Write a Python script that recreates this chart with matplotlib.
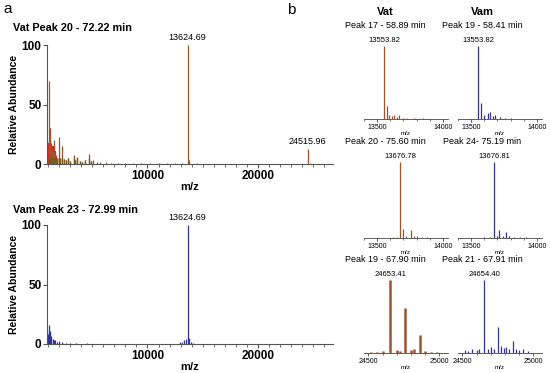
import numpy as np
import matplotlib.pyplot as plt
from matplotlib.ticker import MultipleLocator

plt.rcParams['font.family'] = ['Liberation Sans', 'DejaVu Sans']

VAT = '#a0522d'
VAT_LOW = '#7b5a1e'
VAM = '#33339a'

# panel a, Vat peak 20 (m/z, relative abundance)
a_vat_mz = [1050, 1100, 1150, 1200, 1280, 1350, 1450, 1550, 1650, 1750, 1850, 1950,
            2050, 2220, 2400, 2600, 2800, 3000, 3300, 3450, 3660, 3850, 4050, 4300,
            4660, 4900, 5100, 5400, 5700, 6200, 6700, 7300, 8000, 8700, 9400, 10200,
            11000, 11800, 12500, 13100, 13624.69, 13800, 14500, 16000, 18000, 20000,
            22000, 24515.96, 24700]
a_vat_int = [20, 70, 30, 30, 18, 12, 10, 20, 8, 6, 5, 23,
             5, 15, 4, 3, 5, 2.5, 7.5, 3, 6, 2.5, 2, 3,
             8.5, 2.5, 3, 2, 2, 1.5, 1.2, 1, 1, 0.8, 0.8, 0.7,
             0.6, 0.8, 0.8, 1, 100, 3, 0.5, 0.4, 0.4, 0.3,
             0.3, 13, 1]
a_vat_red_mz = [980, 1020, 1060, 1100, 1140, 1180, 1220, 1260, 1300, 1350, 1400, 1450,
                1500, 1550, 1600, 1650, 1700, 1750, 1800]
a_vat_red_int = [10, 16, 17, 18, 16, 17, 15, 17, 16, 14, 15, 13, 14, 12, 11, 9, 7, 5, 3]

# panel a, Vam peak 23
a_vam_mz = [1000, 1050, 1100, 1150, 1200, 1250, 1300, 1400, 1500, 1650, 1800, 2000,
            2300, 2600, 3000, 3500, 4500, 6000, 12900, 13100, 13300, 13450, 13624.69,
            13750, 13900, 14100]
a_vam_int = [8, 12, 16, 11, 10, 7, 5, 4, 3, 3, 2, 2.5,
             1.5, 1, 0.8, 0.6, 0.5, 0.4, 1.5, 2, 3, 4.5, 100,
             5, 2, 1]

# panel b
b1_vat_mz = [13553.82, 13576, 13592, 13615, 13630, 13652, 13670, 13700, 13730, 13780, 13850]
b1_vat_int = [100, 18, 6, 4, 6, 3, 5, 2, 1.5, 1, 0.8]
b1_vam_mz = [13553.82, 13578, 13600, 13625, 13645, 13670, 13685, 13720, 13760, 13800]
b1_vam_int = [100, 22, 5, 8, 9, 4, 6, 3, 1.5, 1]

b2_vat_mz = [13620, 13650, 13676.78, 13700, 13720, 13760, 13780, 13800, 13840, 13880]
b2_vat_int = [1, 1.5, 100, 12, 3, 11, 3, 2, 1.5, 1]
b2_vam_mz = [13600, 13640, 13676.81, 13700, 13712, 13740, 13766, 13790, 13830, 13870, 13920]
b2_vam_int = [1, 1.5, 100, 3, 11, 3, 8, 2, 1.5, 1, 0.8]

b3_vat_mz = [24520, 24560, 24600, 24653.41, 24700, 24720, 24760, 24800, 24820, 24863,
             24900, 24940, 24980]
b3_vat_int = [2, 2, 3, 100, 4, 3, 62, 4, 5, 25, 3, 2, 1.5]
b3_vam_mz = [24520, 24540, 24570, 24600, 24620, 24654.40, 24680, 24700, 24720, 24754,
             24775, 24790, 24810, 24830, 24854, 24880, 24900, 24930, 24960]
b3_vam_int = [4, 3, 5, 4, 6, 100, 5, 8, 6, 36, 9, 7, 8, 6, 16, 5, 4, 5, 3]

W, H = 550, 373
fig = plt.figure(figsize=(W / 100, H / 100), dpi=100)


def fx(px):
    return px / W


def fy(py):
    return 1 - py / H


def big_axes(bottom_px):
    ax = fig.add_axes([fx(47), fy(bottom_px), fx(286), 119 / H])
    ax.set_xlim(900, 26800)
    ax.set_ylim(0, 100)
    for s in ['top', 'right']:
        ax.spines[s].set_visible(False)
    for s in ['left', 'bottom']:
        ax.spines[s].set_linewidth(0.8)
        ax.spines[s].set_color('#555555')
    ax.set_xticks([10000, 20000])
    ax.xaxis.set_minor_locator(MultipleLocator(1000))
    ax.set_yticks([0, 50, 100])
    ax.tick_params(axis='both', which='major', labelsize=8.5, length=3, width=0.8,
                   color='#555555', pad=1)
    ax.tick_params(axis='x', which='minor', length=2, width=0.6, color='#555555')
    for lab in ax.get_xticklabels() + ax.get_yticklabels():
        lab.set_fontweight('bold')
    ax.set_xlabel('m/z', fontsize=8, fontweight='bold', labelpad=0)
    ax.set_ylabel('Relative Abundance', fontsize=7.5, fontweight='bold', labelpad=2)
    return ax


ax1 = big_axes(164)
ax1.vlines(a_vat_red_mz, 0, a_vat_red_int, color='#e52222', lw=1.6)
ax1.vlines(a_vat_mz, 0, a_vat_int, color=VAT, lw=0.9)
ax1.vlines(a_vat_mz[:26], 0, np.minimum(a_vat_int[:26], 5), color=VAT_LOW, lw=1.0)
ax1.annotate('13624.69', (13624.69, 100), xytext=(0, 2), textcoords='offset points',
             ha='center', va='bottom', fontsize=6.5)
ax1.annotate('24515.96', (24515.96, 13), xytext=(0, 2), textcoords='offset points',
             ha='center', va='bottom', fontsize=6.5)
fig.text(fx(13), fy(28), 'Vat Peak 20 - 72.22 min', fontsize=7.8, fontweight='bold',
         va='center')

ax2 = big_axes(344)
ax2.vlines(a_vam_mz, 0, a_vam_int, color=VAM, lw=0.9)
ax2.annotate('13624.69', (13624.69, 100), xytext=(0, 2), textcoords='offset points',
             ha='center', va='bottom', fontsize=6.5)
fig.text(fx(13), fy(210), 'Vam Peak 23 - 72.99 min', fontsize=7.8, fontweight='bold',
         va='center')

fig.text(fx(3), fy(9), 'a', fontsize=11, va='center')
fig.text(fx(287), fy(10), 'b', fontsize=11, va='center')
fig.text(fx(385), fy(12), 'Vat', fontsize=8, fontweight='bold', ha='center', va='center')
fig.text(fx(482), fy(12), 'Vam', fontsize=8, fontweight='bold', ha='center', va='center')

rows = [
    (119, 73, (13400, 14040), [13500, 14000], 26,
     ('Peak 17 - 58.89 min', b1_vat_mz, b1_vat_int, '13553.82'),
     ('Peak 19 - 58.41 min', b1_vam_mz, b1_vam_int, '13553.82')),
    (238, 76, (13400, 14040), [13500, 14000], 142,
     ('Peak 20 - 75.60 min', b2_vat_mz, b2_vat_int, '13676.78'),
     ('Peak 24- 75.19 min', b2_vam_mz, b2_vam_int, '13676.81')),
    (353, 73, (24470, 25060), [24500, 25000], 259,
     ('Peak 19 - 67.90 min', b3_vat_mz, b3_vat_int, '24653.41'),
     ('Peak 21 - 67.91 min', b3_vam_mz, b3_vam_int, '24654.40')),
]

cols = [(364, VAT, 385), (458, VAM, 482)]

for r, (base, hgt, xl, majors, ty, vat, vam) in enumerate(rows):
    for (left, col, tx), (title, mz, inten, lab) in zip(cols, [vat, vam]):
        ax = fig.add_axes([fx(left), fy(base), fx(84), hgt / H])
        ax.set_xlim(*xl)
        ax.set_ylim(0, 100)
        for s in ['top', 'right', 'left']:
            ax.spines[s].set_visible(False)
        ax.spines['bottom'].set_linewidth(0.6)
        ax.spines['bottom'].set_color('#444444')
        ax.set_yticks([])
        ax.set_xticks(majors)
        ax.xaxis.set_minor_locator(MultipleLocator(100))
        ax.tick_params(axis='x', which='major', labelsize=5, length=2.5, width=0.6,
                       color='#444444', pad=1)
        ax.tick_params(axis='x', which='minor', length=1.5, width=0.5, color='#444444')
        ax.set_xlabel('m/z', fontsize=4.5, labelpad=0)
        lw = 1.8 if (r == 2 and col == VAT) else 0.9
        ax.vlines(mz, 0, inten, color=col, lw=lw)
        peak = mz[int(np.argmax(inten))]
        ax.annotate(lab, (peak, 100), xytext=(0, 1.5), textcoords='offset points',
                    ha='center', va='bottom', fontsize=5.5)
        fig.text(fx(tx), fy(ty), title, fontsize=6.5, ha='center', va='center')

fig.savefig('out.png', dpi=100)
